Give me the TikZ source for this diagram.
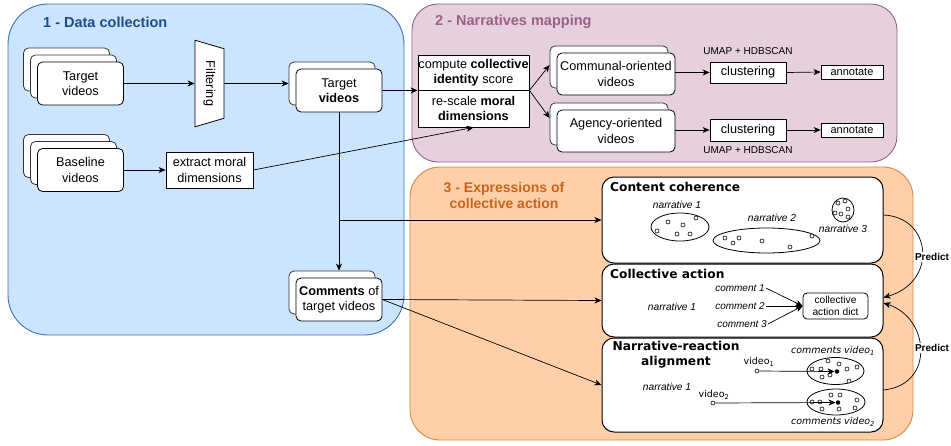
\documentclass[tikz,border=0pt]{standalone}
\usepackage{fontspec}
\setmainfont{Liberation Sans}
\newfontfamily\vfont{DejaVu Sans}
\usetikzlibrary{shapes.geometric,shadows,arrows.meta}
\definecolor{dcblue}{HTML}{3A6FB5}
\definecolor{bluetint}{HTML}{CCE5FF}
\definecolor{bluetext}{HTML}{1A4E8C}
\definecolor{plum}{HTML}{996185}
\definecolor{plumtint}{HTML}{E6D0DE}
\definecolor{amber}{HTML}{D08A3A}
\definecolor{ambertint}{HTML}{FFCFAA}
\definecolor{ambertext}{HTML}{C8651B}
\tikzset{
  panel/.style={rounded corners=#1,line width=.9pt},
  box/.style={draw,fill=white,line width=.8pt,align=center,inner sep=0pt,
    font=\fontsize{12.7}{15.5}\selectfont},
  doc/.style={box,rounded corners=5pt,minimum width=86pt,minimum height=43pt},
  layer/.style={general shadow={shadow xshift=-#1,shadow yshift=#1,
    fill=white,draw=black!80,line width=.8pt}},
  stack/.style={layer=7pt},
  stackthree/.style={layer=14pt,layer=7pt},
  card/.style={draw,fill=white,line width=1pt,rounded corners=12pt,
    minimum width=281pt},
  cardtitle/.style={anchor=west,font=\vfont\bfseries\fontsize{12.2}{15}\selectfont,
    align=center,inner sep=0pt},
  small/.style={font=\fontsize{10}{12}\selectfont,inner sep=0pt},
  itl/.style={font=\itshape\fontsize{10.2}{12}\selectfont,inner sep=0pt},
  vtl/.style={font=\vfont\itshape\fontsize{9.5}{11}\selectfont,inner sep=0pt},
  group/.style={draw,ellipse,line width=.8pt,inner sep=0pt},
  pt/.style={draw,fill=white,line width=.6pt},
  odot/.style={circle,draw,fill=white,line width=.6pt,minimum size=4pt,inner sep=0pt},
  fdot/.style={circle,fill=black,minimum size=4.5pt,inner sep=0pt},
  arr/.style={-{Stealth[length=7pt,width=6pt,inset=2pt]},line width=.7pt},
  panellabel/.style={font=\bfseries\fontsize{14.5}{17}\selectfont,inner sep=0pt},
  predlbl/.style={fill=white,font=\bfseries\fontsize{10}{12}\selectfont,inner sep=1pt}
}
\begin{document}
\begin{tikzpicture}[x=1pt,y=-1pt]
\useasboundingbox (0,0) rectangle (951,445);
\draw[panel=40pt,draw=dcblue,fill=bluetint] (8,4) rectangle (404,335);
\draw[panel=26pt,draw=plum,fill=plumtint] (412,4) rectangle (897,162);
\draw[panel=30pt,draw=amber,fill=ambertint] (410,167) rectangle (913,440);
\node[panellabel,text=bluetext,anchor=west] (t1) at (43,22) {1 - Data collection};
\node[panellabel,text=plum,anchor=west] (t2) at (435,22) {2 - Narratives mapping};
\node[panellabel,text=ambertext,align=center,font=\bfseries\fontsize{14}{16}\selectfont] (t3) at (504,195) {3 - Expressions of\\collective action};

\node[doc,stackthree] (tv1) at (80.5,83.5) {Target\\videos};
\node[doc,stackthree] (base) at (80.5,170) {Baseline\\videos};
\node[box,trapezium,trapezium stretches=true,trapezium angle=65,rotate=-90,
  minimum width=87pt,minimum height=29pt] (filter) at (209.5,83.5) {Filtering};
\node[doc,stack] (tv2) at (339,90.5) {Target\\\textbf{videos}};
\node[box,minimum width=87pt,minimum height=36pt] (ext) at (209.5,170) {extract moral\\dimensions};
\node[doc,stack] (cmt) at (339,299.5) {\textbf{Comments} of\\target videos};

\node[box,minimum width=111pt,minimum height=35pt] (score) at (473.5,72.5) {compute \textbf{collective}\\\textbf{identity} score};
\node[box,minimum width=111pt,minimum height=37pt] (rescale) at (473.5,108.5) {re-scale \textbf{moral}\\\textbf{dimensions}};
\node[doc,stack,minimum width=118pt,minimum height=42pt] (comm) at (616,74) {Communal-oriented\\videos};
\node[doc,stack,minimum width=118pt,minimum height=42pt] (agency) at (616,131) {Agency-oriented\\videos};
\node[box,minimum width=76pt,minimum height=21pt] (clus1) at (748,72.5) {clustering};
\node[box,minimum width=76pt,minimum height=22pt] (clus2) at (748,130) {clustering};
\node[box,minimum width=62pt,minimum height=14pt,font=\fontsize{11}{13}\selectfont] (ann1) at (852,72) {annotate};
\node[box,minimum width=62pt,minimum height=14pt,font=\fontsize{11}{13}\selectfont] (ann2) at (852,130) {annotate};
\node[small] (umap1) at (748,51) {UMAP + HDBSCAN};
\node[small] (umap2) at (748,150) {UMAP + HDBSCAN};

\coordinate (cmttop) at ([yshift=7pt]cmt.north);
\draw[arr] (tv1.east) -- (filter.south);
\draw[arr] (filter.north) -- ([shift={(-7,-7)}]tv2.west);
\draw[arr] (base.east) -- (ext.west);
\draw[arr] (tv2.east) -- (score.south west);
\draw[arr] (ext.east) -- (rescale.south);
\draw[arr] (score.south east) -- ([shift={(-7,-9)}]comm.west);
\draw[arr] (score.south east) -- ([shift={(-7,-13)}]agency.west);
\draw[arr] (clus1.west -| comm.east) -- (clus1.west);
\draw[arr] (clus1.east) -- (ann1.west);
\draw[arr] (clus2.west -| agency.east) -- (clus2.west);
\draw[arr] (clus2.east) -- (ann2.west);

\node[card,minimum height=86pt] (coh) at (742.5,220) {};
\node[card,minimum height=73pt] (coll) at (742.5,300.5) {};
\node[card,minimum height=94pt] (nra) at (742.5,385) {};
\draw[arr] (tv2.south) -- (tv2.south |- cmttop);
\draw[arr] (tv2.south |- coh.west) -- (coh.west);
\draw[arr] (cmt.east) -- (coll.west);
\draw[arr] (cmt.east) -- (nra.west);

% content coherence
\node[cardtitle] (cohtitle) at (610,187) {Content coherence};
\node[itl] (n1) at (677,205) {narrative 1};
\node[itl] (n2) at (772,218) {narrative 2};
\node[itl] (n3) at (843,229) {narrative 3};
\node[group,minimum width=58pt,minimum height=28pt] (g1) at (680,227) {};
\node[group,minimum width=107pt,minimum height=25pt] (g2) at (766.5,240.5) {};
\node[group,minimum width=22pt,minimum height=24pt] (g3) at (843,210) {};
\foreach \p in {(668,222),(683,225),(696,218),(657,231),(677,234),(690,234),
  (725,238),(733,243),(739,238),(762,241),(790,247),(812,236),
  (838,203),(845,201),(848,209),(835,213),(841,214),(848,217)}
  \draw[pt] \p circle (2pt);

% collective action
\node[cardtitle] (colltitle) at (610,274) {Collective action};
\node[itl] (n4) at (672,307) {narrative 1};
\node[box,rounded corners=4pt,minimum width=65pt,minimum height=26pt,
  font=\fontsize{10.2}{12.5}\selectfont] (dict) at (835.5,306) {collective\\action dict};
\node[itl,font=\itshape\fontsize{10}{12}\selectfont] (c1) at (740,288) {comment 1};
\node[itl,font=\itshape\fontsize{10}{12}\selectfont] (c2) at (740,306) {comment 2};
\node[itl,font=\itshape\fontsize{10}{12}\selectfont] (c3) at (742,324) {comment 3};
\draw[arr] ([xshift=1pt]c1.east) -- (dict.west);
\draw[arr] ([xshift=1pt]c2.east) -- (dict.west);
\draw[arr] ([xshift=1pt]c3.east) -- (dict.west);

% narrative-reaction alignment
\node[cardtitle,anchor=center] (nratitle) at (676,355) {Narrative-reaction\\alignment};
\node[itl] (n5) at (667,387) {narrative 1};
\node[vtl] (cv1lbl) at (833,351) {comments video\textsubscript{1}};
\node[vtl] (cv2lbl) at (833,422) {comments video\textsubscript{2}};
\node[group,minimum width=57pt,minimum height=27pt] (cv1) at (835.5,371) {};
\node[group,minimum width=58pt,minimum height=26pt] (cv2) at (836,402) {};
\foreach \p in {(812,369),(821,369),(828,361),(839,364),(847,369),(857,367),
  (822,377),(830,375),(849,381),
  (812,402),(820,402),(831,395),(840,395),(857,400),(822,409),(839,409),(855,408)}
  \draw[pt] \p circle (2pt);
\node[font=\vfont\fontsize{9.5}{11}\selectfont,inner sep=0pt] (v1lbl) at (759,362) {video\textsubscript{1}};
\node[font=\vfont\fontsize{9.5}{11}\selectfont,inner sep=0pt] (v2lbl) at (714,395) {video\textsubscript{2}};
\node[odot] (v1) at (757,371) {};
\node[odot] (v2) at (713,403) {};
\node[fdot] (h1) at (837,371.5) {};
\node[fdot] (h2) at (838,402.5) {};
\draw[arr] (v1) -- (h1.west);
\draw[arr] (v2) -- (h2.west);

% predict
\draw[arr] ([yshift=5pt]coh.east) .. controls (932,217) and (938,282) .. ([yshift=3pt]coll.east);
\draw[arr] ([yshift=-5pt]nra.east) .. controls (935,385) and (930,318) .. ([yshift=-2.5pt]coll.east);
\node[predlbl] (pred1) at (932,257) {Predict};
\node[predlbl] (pred2) at (932,348) {Predict};
\end{tikzpicture}
\end{document}
